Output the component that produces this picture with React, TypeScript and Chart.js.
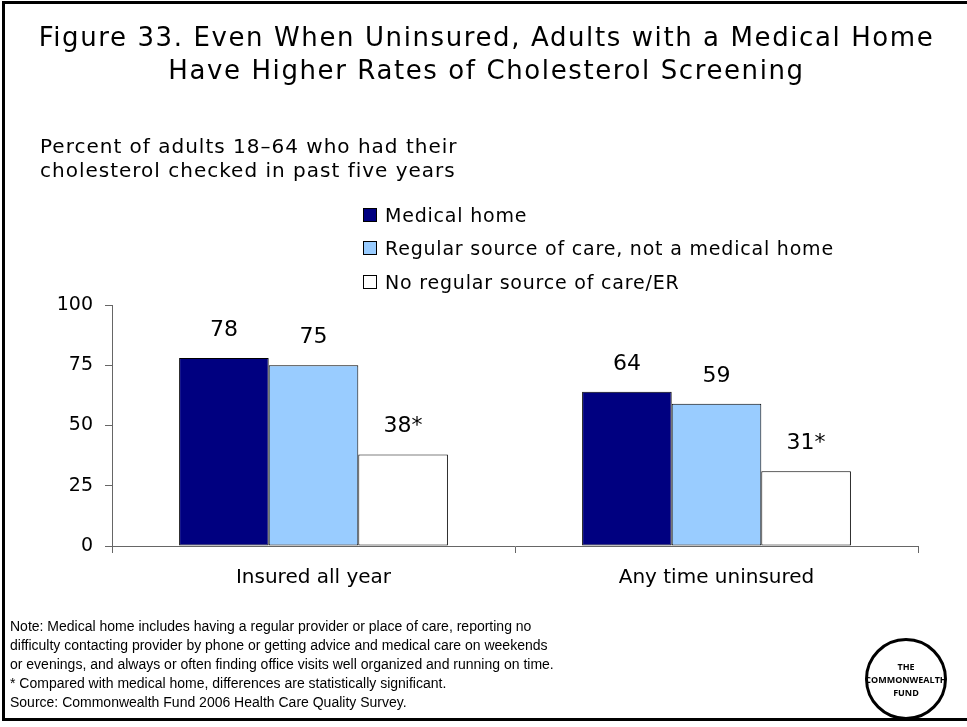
import React, { useEffect, useRef } from "react";
import { Chart, registerables } from "chart.js";

Chart.register(...registerables);

const categories = ["Insured all year", "Any time uninsured"];
const seriesNames = [
  "Medical home",
  "Regular source of care, not a medical home",
  "No regular source of care/ER",
];
const medicalHome = [78, 64];
const regularSource = [75, 59];
const noRegularSource = [38, 31];
const medicalHomeLabels = ["78", "64"];
const regularSourceLabels = ["75", "59"];
const noRegularSourceLabels = ["38*", "31*"];
const yTickStep = 25;
const yMax = 100;
const seriesColors = ["#000080", "#99CCFF", "#FFFFFF"];

const titleLines = [
  "Figure 33. Even When Uninsured, Adults with a Medical Home",
  "Have Higher Rates of Cholesterol Screening",
];
const subtitleLines = [
  "Percent of adults 18\u201364 who had their",
  "cholesterol checked in past five years",
];
const noteLines = [
  "Note: Medical home includes having a regular provider or place of care, reporting no",
  "difficulty contacting provider by phone or getting advice and medical care on weekends",
  "or evenings, and always or often finding office visits well organized and running on time.",
  "* Compared with medical home, differences are statistically significant.",
  "Source: Commonwealth Fund 2006 Health Care Quality Survey.",
];
const logoLines = ["THE", "COMMONWEALTH", "FUND"];

const FONT = '"DejaVu Sans", Verdana, sans-serif';

const dataLabelPlugin = {
  id: "valueLabels",
  afterDatasetsDraw(chart: any) {
    const ctx = chart.ctx;
    ctx.save();
    ctx.font = `22px ${FONT}`;
    ctx.fillStyle = "#000";
    ctx.textAlign = "center";
    ctx.textBaseline = "alphabetic";
    chart.data.datasets.forEach((ds: any, i: number) => {
      const meta = chart.getDatasetMeta(i);
      meta.data.forEach((bar: any, j: number) => {
        ctx.fillText(ds.valueLabels[j], bar.x, bar.y - 22);
      });
    });
    ctx.restore();
  },
};

export default function App() {
  const canvasRef = useRef<HTMLCanvasElement | null>(null);

  useEffect(() => {
    document.body.style.margin = "0";
    const canvas = canvasRef.current;
    if (!canvas) return;
    const chart = new Chart(canvas, {
      type: "bar",
      data: {
        labels: categories,
        datasets: [
          {
            label: seriesNames[0],
            data: medicalHome,
            backgroundColor: seriesColors[0],
            borderColor: "#000",
            borderWidth: 1,
            borderSkipped: false,
            valueLabels: medicalHomeLabels,
          } as any,
          {
            label: seriesNames[1],
            data: regularSource,
            backgroundColor: seriesColors[1],
            borderColor: "#000",
            borderWidth: 1,
            borderSkipped: false,
            valueLabels: regularSourceLabels,
          } as any,
          {
            label: seriesNames[2],
            data: noRegularSource,
            backgroundColor: seriesColors[2],
            borderColor: "#000",
            borderWidth: 1,
            borderSkipped: false,
            valueLabels: noRegularSourceLabels,
          } as any,
        ],
      },
      options: {
        animation: false,
        responsive: false,
        devicePixelRatio: 1,
        layout: { padding: { left: 0, right: 49, top: 305, bottom: 0 } },
        datasets: { bar: { categoryPercentage: 0.667, barPercentage: 1 } },
        plugins: {
          legend: { display: false },
          tooltip: { enabled: false },
          title: { display: false },
        },
        scales: {
          x: {
            grid: {
              offset: true,
              drawOnChartArea: false,
              drawTicks: true,
              tickLength: 7,
              color: "#666",
            },
            border: { display: true, color: "#666", width: 1 },
            ticks: {
              font: { family: FONT, size: 20 },
              color: "#000",
              padding: 13,
            },
            afterFit: (s: any) => {
              s.height = 181;
            },
          },
          y: {
            min: 0,
            max: yMax,
            ticks: {
              stepSize: yTickStep,
              font: { family: FONT, size: 19 },
              color: "#000",
              padding: 12,
            },
            grid: {
              drawOnChartArea: false,
              drawTicks: true,
              tickLength: 7,
              color: "#666",
            },
            border: { display: true, color: "#666", width: 1 },
            afterFit: (s: any) => {
              s.width = 112;
            },
          },
        },
      } as any,
      plugins: [dataLabelPlugin],
    });
    return () => chart.destroy();
  }, []);

  const legendRowsY = [215, 248, 282];

  return (
    <div
      style={{
        position: "absolute",
        left: 0,
        top: 0,
        width: 967,
        height: 727,
        background: "#fff",
        overflow: "hidden",
      }}
    >
      <canvas
        ref={canvasRef}
        width={967}
        height={727}
        style={{ position: "absolute", left: 0, top: 0, width: 967, height: 727 }}
      />
      <div
        style={{
          position: "absolute",
          left: 2,
          top: 1,
          width: 968,
          height: 720,
          border: "3px solid #000",
          boxSizing: "border-box",
          pointerEvents: "none",
        }}
      />
      <div
        style={{
          position: "absolute",
          left: 3,
          top: 21,
          width: 967,
          textAlign: "center",
          fontFamily: FONT,
          fontSize: 26,
          letterSpacing: "1.6px",
          lineHeight: "33px",
          color: "#000",
        }}
      >
        {titleLines.map((t, i) => (
          <div key={i}>{t}</div>
        ))}
      </div>
      <div
        style={{
          position: "absolute",
          left: 40,
          top: 134,
          fontFamily: FONT,
          fontSize: 20,
          letterSpacing: "1px",
          lineHeight: "24px",
          color: "#000",
          whiteSpace: "nowrap",
        }}
      >
        {subtitleLines.map((t, i) => (
          <div key={i}>{t}</div>
        ))}
      </div>
      {seriesNames.map((name, i) => (
        <div
          key={i}
          style={{
            position: "absolute",
            left: 363,
            top: legendRowsY[i] - 12,
            height: 24,
            display: "flex",
            alignItems: "center",
            fontFamily: FONT,
            fontSize: 19,
            letterSpacing: "0.8px",
            color: "#000",
            whiteSpace: "nowrap",
          }}
        >
          <span
            style={{
              display: "inline-block",
              width: 14,
              height: 14,
              boxSizing: "border-box",
              border: "1px solid #000",
              background: seriesColors[i],
              marginRight: 8,
            }}
          />
          <span>{name}</span>
        </div>
      ))}
      <div
        style={{
          position: "absolute",
          left: 10,
          top: 617,
          fontFamily: '"Liberation Sans", Arial, sans-serif',
          fontSize: 14,
          lineHeight: "19px",
          color: "#000",
          whiteSpace: "nowrap",
        }}
      >
        {noteLines.map((t, i) => (
          <div key={i}>{t}</div>
        ))}
      </div>
      <div
        style={{
          position: "absolute",
          left: 865,
          top: 638,
          width: 82,
          height: 82,
          borderRadius: "50%",
          border: "3px solid #000",
          boxSizing: "border-box",
          display: "flex",
          flexDirection: "column",
          alignItems: "center",
          justifyContent: "center",
          fontFamily: '"Open Sans", sans-serif',
          fontWeight: 700,
          fontSize: 9,
          lineHeight: "13px",
          color: "#000",
          background: "#fff",
        }}
      >
        {logoLines.map((t, i) => (
          <div key={i}>{t}</div>
        ))}
      </div>
    </div>
  );
}
